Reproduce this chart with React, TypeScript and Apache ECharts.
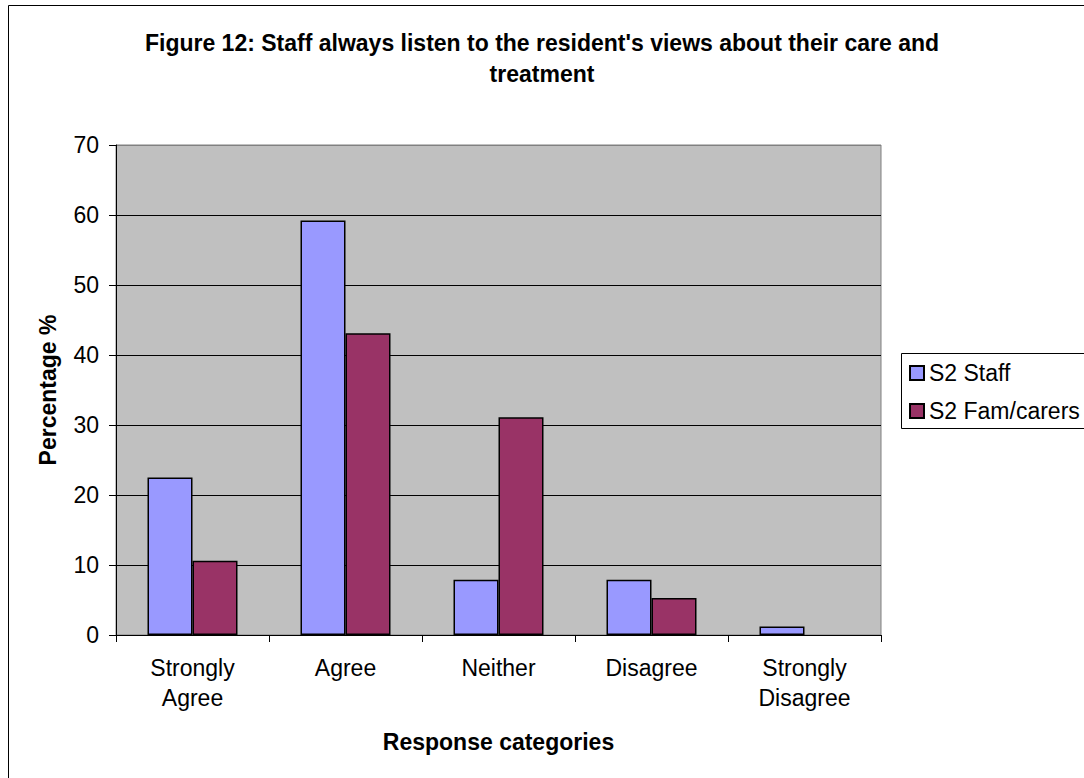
import React, { useEffect, useRef } from "react";
import * as echarts from "echarts";

const titleText =
  "Figure 12: Staff always listen to the resident's views about their care and\ntreatment";
const categories = ["Strongly\nAgree", "Agree", "Neither", "Disagree", "Strongly\nDisagree"];
const seriesNames = ["S2 Staff", "S2 Fam/carers"];
const staffValues = [22.5, 59.2, 7.9, 7.9, 1.2];
const famValues = [10.6, 43.1, 31.1, 5.3, 0];
const yTicks = { min: 0, max: 70, interval: 10 };
const yAxisName = "Percentage %";
const xAxisName = "Response categories";

const FONT = "'Liberation Sans', Arial, sans-serif";

const toData = (vals: number[]) =>
  vals.map((v) => (v === 0 ? { value: v, itemStyle: { borderWidth: 0, opacity: 0 } } : v));

export default function App() {
  const ref = useRef<HTMLDivElement>(null);
  useEffect(() => {
    if (!ref.current) return;
    const chart = echarts.init(ref.current, null, { renderer: "svg" });
    chart.setOption({
      animation: false,
      backgroundColor: "#ffffff",
      textStyle: { fontFamily: FONT },
      title: {
        text: titleText,
        left: "center",
        top: 22,
        textStyle: {
          fontFamily: FONT,
          fontSize: 23,
          fontWeight: "bold",
          color: "#000",
          lineHeight: 31,
        },
      },
      graphic: [
        {
          type: "rect",
          shape: { x: 8.5, y: 5.5, width: 1100, height: 800 },
          style: { fill: "none", stroke: "#000", lineWidth: 1 },
          z: 0,
        },
        {
          type: "rect",
          shape: { x: 901.5, y: 353.5, width: 200, height: 75 },
          style: { fill: "#fff", stroke: "#000", lineWidth: 1 },
          z: 1,
        },
      ],
      legend: {
        orient: "vertical",
        left: 909,
        top: 361,
        padding: 0,
        itemWidth: 14,
        itemHeight: 14,
        itemGap: 14,
        icon: "rect",
        z: 5,
        textStyle: { fontFamily: FONT, fontSize: 23, color: "#000", lineHeight: 24 },
        data: seriesNames,
      },
      grid: {
        left: 116,
        top: 145,
        right: 203,
        bottom: 143,
        show: true,
        backgroundColor: "#c0c0c0",
        borderColor: "#808080",
        borderWidth: 1,
      },
      xAxis: {
        type: "category",
        data: categories,
        name: xAxisName,
        nameLocation: "middle",
        nameGap: 95,
        nameTextStyle: { fontFamily: FONT, fontSize: 23, fontWeight: "bold", color: "#000" },
        axisLine: { lineStyle: { color: "#000", width: 1 } },
        axisTick: { show: true, length: 7, lineStyle: { color: "#000" } },
        axisLabel: {
          fontFamily: FONT,
          fontSize: 23,
          color: "#000",
          lineHeight: 30,
          margin: 18,
          interval: 0,
        },
      },
      yAxis: {
        type: "value",
        min: yTicks.min,
        max: yTicks.max,
        interval: yTicks.interval,
        name: yAxisName,
        nameLocation: "middle",
        nameGap: 57,
        nameTextStyle: { fontFamily: FONT, fontSize: 23, fontWeight: "bold", color: "#000" },
        axisLine: { show: true, lineStyle: { color: "#000", width: 1 } },
        axisTick: { show: true, length: 7, lineStyle: { color: "#000" } },
        axisLabel: { fontFamily: FONT, fontSize: 23, color: "#000", margin: 17 },
        splitLine: {
          show: true,
          lineStyle: {
            color: ["#000", "#000", "#000", "#000", "#000", "#000", "#000", "#808080"],
            width: 1,
          },
        },
      },
      series: [
        {
          name: seriesNames[0],
          type: "bar",
          data: toData(staffValues),
          barWidth: 45,
          barGap: "0%",
          itemStyle: { color: "#9999ff", borderColor: "#000", borderWidth: 1.5 },
        },
        {
          name: seriesNames[1],
          type: "bar",
          data: toData(famValues),
          barWidth: 45,
          barGap: "0%",
          itemStyle: { color: "#993366", borderColor: "#000", borderWidth: 1.5 },
        },
      ],
    });
    return () => chart.dispose();
  }, []);
  return (
    <div
      ref={ref}
      style={{ position: "fixed", left: 0, top: 0, width: 1084, height: 778 }}
    />
  );
}
